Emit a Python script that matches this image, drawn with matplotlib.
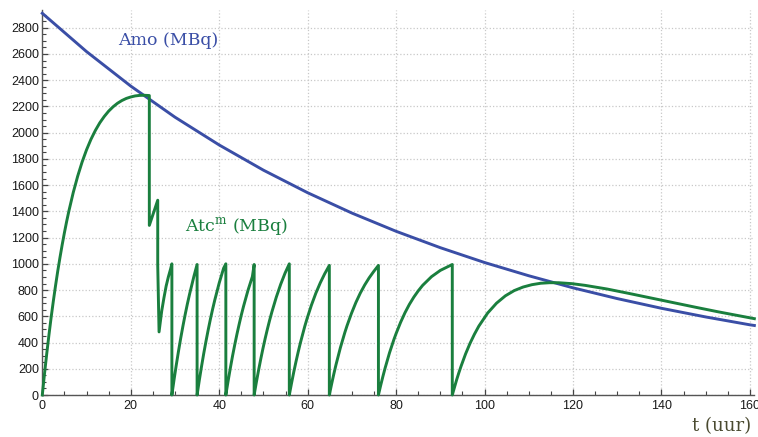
import numpy as np
import matplotlib
matplotlib.use("Agg")
from matplotlib import pyplot as plt
from matplotlib.ticker import MultipleLocator

# Mo-99 activity (MBq), read every 10 h
t_mo = [0, 10, 20, 30, 40, 50, 60, 70, 80, 90, 100, 110, 120, 130, 140, 150, 160, 161]
a_mo = [2910, 2618, 2355, 2118, 1906, 1714, 1542, 1387, 1248, 1123, 1010, 909, 817, 735, 661, 595, 535, 530]

# Tc-99m activity (MBq): build-up, then repeated elutions
t_tc = [0, 0.5, 1, 1.5, 2, 2.5, 3, 3.5, 4, 4.5, 5, 5.5, 6, 7, 8, 9, 10, 11, 12, 13, 14,
        15, 16, 17, 18, 19, 20, 21, 22, 23, 24, 24.2,
        24.2, 26.1, 26.1, 26.4, 26.7, 27.0, 27.5, 28.0, 28.5, 29.0, 29.3,
        29.3, 29.55, 29.8, 30.3, 30.8, 31.3, 31.8, 32.3, 32.8, 33.3, 34.3, 35.0,
        35.0, 35.25, 35.5, 36, 36.5, 37, 37.5, 38, 38.5, 39, 40, 41, 41.5,
        41.5, 41.75, 42, 42.5, 43, 43.5, 44, 44.5, 45, 45.5, 46.5, 47.5, 47.9,
        47.9, 48.15, 48.4, 48.9, 49.4, 49.9, 50.4, 50.9, 51.4, 51.9, 52.9, 53.9, 54.9, 55.85,
        55.85, 56.1, 56.35, 56.85, 57.35, 57.85, 58.35, 58.85, 59.35, 59.85, 60.85, 61.85,
        62.85, 63.85, 64.9,
        64.9, 65.15, 65.4, 65.9, 66.4, 66.9, 67.4, 67.9, 68.4, 68.9, 69.9, 70.9, 71.9, 72.9,
        73.9, 74.9, 76.0,
        76.0, 76.25, 76.5, 77, 77.5, 78, 78.5, 79, 79.5, 80, 81, 82, 83, 84, 85, 86, 88, 90,
        92.0, 92.7,
        92.7, 92.95, 93.2, 93.7, 94.2, 94.7, 95.7, 96.7, 97.7, 98.7, 100.7, 102.7, 104.7,
        106.7, 108.7, 110.7, 112.7, 114.7, 116.7, 119.7, 122.7, 127.7, 132.7, 137.7, 142.7,
        147.7, 152.7, 157.7, 161.0]
a_tc = [0, 162, 314, 457, 592, 717, 835, 946, 1049, 1146, 1237, 1322, 1401, 1544, 1668, 1776,
        1869, 1949, 2017, 2075, 2123, 2164, 2197, 2224, 2245, 2261, 2272, 2280, 2284, 2285,
        2283, 2283,
        1293, 1485, 990, 481, 560, 640, 740, 830, 900, 960, 1000,
        0, 60, 119, 230, 335, 434, 526, 613, 694, 769, 907, 995,
        0, 56, 112, 217, 316, 408, 495, 577, 653, 724, 854, 967, 1000,
        0, 53, 104, 202, 295, 381, 462, 538, 610, 676, 797, 903, 995,
        0, 49, 97, 189, 275, 356, 432, 503, 570, 632, 745, 844, 930, 1000,
        0, 45, 89, 174, 253, 327, 397, 462, 524, 581, 685, 776, 855, 924, 988,
        0, 41, 81, 158, 230, 297, 361, 420, 476, 528, 622, 705, 777, 839, 893, 940, 988,
        0, 36, 72, 140, 204, 264, 321, 373, 423, 469, 553, 627, 691, 746, 794, 836, 902, 950,
        983, 995,
        0, 30, 60, 118, 171, 221, 313, 393, 463, 525, 625, 700, 756, 796, 823, 841, 852, 856,
        856, 849, 836, 808, 774, 739, 704, 669, 635, 603, 582]

x_ticks = [0, 20, 40, 60, 80, 100, 120, 140, 160]
y_ticks = list(range(0, 2801, 200))

blue = '#3a4ea6'
green = '#1a7f3e'
plt.rcParams['mathtext.fontset'] = 'custom'
plt.rcParams['mathtext.rm'] = 'DejaVu Serif'

fig = plt.figure(figsize=(7.58, 4.37), dpi=100)
ax = fig.add_axes([0.0558, 0.0961, 0.9394, 0.8810])

ax.plot(t_mo, a_mo, color=blue, lw=2.1, clip_on=False, zorder=3)
ax.plot(t_tc, a_tc, color=green, lw=2.1, clip_on=False, zorder=4)

ax.set_xlim(0, 161)
ax.set_ylim(0, 2935)
ax.set_xticks(x_ticks)
ax.set_yticks(y_ticks)
ax.xaxis.set_minor_locator(MultipleLocator(5))
ax.yaxis.set_minor_locator(MultipleLocator(50))
ax.tick_params(which='major', direction='in', length=4.5, width=0.9, color='#444444',
               labelsize=9, labelcolor='#1a1a1a')
ax.tick_params(axis='y', which='major', pad=2.5)
ax.tick_params(axis='x', which='major', pad=3.5)
ax.tick_params(which='minor', direction='in', length=2.6, width=0.8, color='#444444')
for lab in ax.get_xticklabels() + ax.get_yticklabels():
    lab.set_family('Liberation Sans')

ax.grid(True, which='major', color='#c8c8c8', ls=':', lw=0.9)
for s in ['top', 'right']:
    ax.spines[s].set_visible(False)
for s in ['left', 'bottom']:
    ax.spines[s].set_color('#555555')
    ax.spines[s].set_linewidth(1.0)

ax.text(28.4, 2700, 'Amo (MBq)', color=blue, fontsize=12.5, family='DejaVu Serif',
        ha='center', va='center')
ax.text(43.9, 1285, r'Atc$^{\mathrm{m}}$ (MBq)', color=green, fontsize=12.5,
        family='DejaVu Serif', ha='center', va='center')
fig.text(0.991, 0.014, 't (uur)', color='#4a4a30', fontsize=13, family='DejaVu Serif',
         ha='right', va='baseline')

fig.savefig('out.png', dpi=100)
